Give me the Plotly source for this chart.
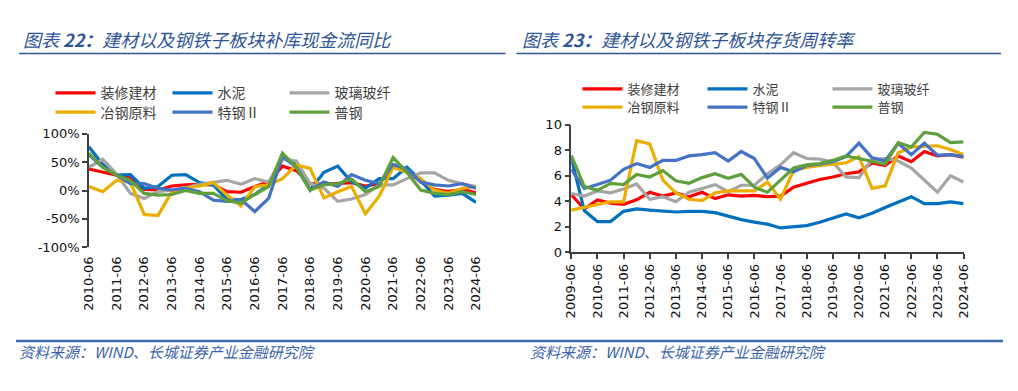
import plotly.graph_objects as go

# The page body keeps an 8px margin, so the figure is drawn 16px smaller
# and every reference pixel position is shifted by that margin.
PAGE_W, PAGE_H, OFF = 1018, 391, 8
W, H = PAGE_W - 2 * OFF, PAGE_H - 2 * OFF

# ---------------- data ----------------
periods_L = ["2010-06", "2010-12", "2011-06", "2011-12", "2012-06", "2012-12", "2013-06", "2013-12",
             "2014-06", "2014-12", "2015-06", "2015-12", "2016-06", "2016-12", "2017-06", "2017-12",
             "2018-06", "2018-12", "2019-06", "2019-12", "2020-06", "2020-12", "2021-06", "2021-12",
             "2022-06", "2022-12", "2023-06", "2023-12", "2024-06"]
ticks_L = ["2010-06", "2011-06", "2012-06", "2013-06", "2014-06", "2015-06", "2016-06", "2017-06",
           "2018-06", "2019-06", "2020-06", "2021-06", "2022-06", "2023-06", "2024-06"]

# 补库现金流同比 (%)
zxjc_L = [38, 32, 27, 24, 2, 1, 8, 10, 11, 10, -2, -3, 7, 15, 43, 35, 12, 11, 12, 14, 8, 12, 43, 36, 15, 2, -2, 2, -4]
sn_L = [77, 46, 27, 28, 4, 7, 27, 28, 14, 10, -16, -16, -7, 10, 60, 46, 1, 32, 43, 15, 4, 21, 21, 41, 18, -10, -8, -5, -21]
blbx_L = [41, 55, 29, -5, -14, -2, 1, 5, 11, 14, 18, 11, 21, 15, 55, 52, 12, 4, -19, -15, -7, 10, 10, 21, 31, 31, 18, 12, 7]
ygyl_L = [7, -2, 18, 15, -42, -44, -2, 4, 8, 14, -8, -27, 7, 10, 21, 45, 39, -13, -2, 7, -41, -10, 41, 32, 21, 1, -5, 4, 7]
tg_L = [63, 41, 27, 12, 12, 4, 1, 4, -2, -17, -19, -16, -37, -14, 60, 41, 1, 15, 7, 28, 18, 12, 46, 38, 15, 10, 8, 12, 4]
pg_L = [66, 41, 27, 18, -5, -8, -7, 0, -5, -5, -18, -22, -7, 7, 66, 41, 1, 10, 12, 20, -2, 7, 58, 32, 1, -5, -7, -2, -7]

periods_R = ["2009-06", "2009-12"] + periods_L
ticks_R = ["2009-06"] + ticks_L

# 存货周转率
zxjc_R = [4.5, 3.4, 4.1, 3.85, 3.75, 4.1, 4.7, 4.4, 4.65, 4.35, 4.7, 4.2, 4.5, 4.4, 4.45, 4.35, 4.4,
          5.1, 5.4, 5.7, 5.9, 6.15, 6.3, 7.0, 6.8, 7.55, 7.1, 7.9, 7.55, 7.65, 7.45]
sn_R = [7.4, 3.25, 2.4, 2.4, 3.2, 3.4, 3.3, 3.2, 3.15, 3.2, 3.2, 3.1, 2.8, 2.55, 2.35, 2.2, 1.9,
        1.98, 2.08, 2.35, 2.65, 3.0, 2.7, 3.05, 3.5, 3.95, 4.35, 3.8, 3.8, 3.95, 3.8]
blbx_R = [4.6, 4.4, 4.8, 4.65, 4.95, 5.35, 4.15, 4.35, 3.95, 4.7, 5.0, 5.3, 4.75, 5.25, 5.25, 6.15, 6.85,
          7.8, 7.35, 7.3, 7.05, 5.9, 5.85, 7.3, 7.35, 7.15, 6.6, 5.65, 4.7, 6.0, 5.5]
ygyl_R = [3.3, 3.5, 3.75, 3.95, 3.95, 8.75, 8.5, 5.65, 4.65, 4.15, 4.05, 4.65, 4.8, 4.8, 4.8, 5.5, 4.15,
          6.4, 6.65, 6.8, 6.9, 7.0, 7.5, 5.0, 5.2, 7.8, 8.25, 8.3, 8.35, 8.05, 7.65]
tg_R = [6.5, 5.0, 5.3, 5.65, 6.5, 6.95, 6.65, 7.2, 7.2, 7.55, 7.65, 7.8, 7.15, 7.9, 7.35, 5.8, 6.65,
        6.3, 6.8, 6.9, 7.1, 7.5, 8.55, 7.4, 7.15, 8.55, 7.65, 8.55, 7.6, 7.65, 7.5]
pg_R = [7.6, 5.15, 4.85, 5.4, 5.3, 6.1, 5.9, 6.4, 5.6, 5.4, 5.85, 6.15, 5.8, 6.1, 5.1, 4.7, 5.65,
        6.6, 6.85, 6.95, 7.2, 7.55, 7.35, 7.15, 6.9, 8.6, 8.25, 9.4, 9.25, 8.6, 8.65]

names = ["装修建材", "水泥", "玻璃玻纤", "冶钢原料", "特钢Ⅱ", "普钢"]
colors = ["#FF0000", "#0070C0", "#A5A5A5", "#EBAE00", "#4472C4", "#5FA03C"]
left_series = [zxjc_L, sn_L, blbx_L, ygyl_L, tg_L, pg_L]
right_series = [zxjc_R, sn_R, blbx_R, ygyl_R, tg_R, pg_R]

yticks_L = [-100, -50, 0, 50, 100]
yticktext_L = ["-100%", "-50%", "0%", "50%", "100%"]
yticks_R = [0, 2, 4, 6, 8, 10]

# ---------------- figure ----------------
fig = go.Figure()
for k in range(6):
    fig.add_trace(go.Scatter(x=periods_L, y=left_series[k], mode="lines", name=names[k],
                             line=dict(color=colors[k], width=3.2),
                             xaxis="x", yaxis="y", legend="legend" if k < 3 else "legend2"))
for k in range(6):
    fig.add_trace(go.Scatter(x=periods_R, y=right_series[k], mode="lines", name=names[k],
                             line=dict(color=colors[k], width=3.2),
                             xaxis="x2", yaxis="y2", legend="legend3" if k < 3 else "legend4"))

def px_x(p):
    return (p - OFF) / W

def px_y(p):
    return 1 - (p - OFF) / H

axcol = "#404040"
tickfont = dict(family="DejaVu Sans", size=13, color="#111111")

dom_xL = [px_x(82), px_x(475)]
dom_yL = [px_y(250), px_y(131.7)]
dom_xR = [px_x(571.7), px_x(970)]
dom_yR = [px_y(255), px_y(122.3)]

def leg(x, y, ew, fs):
    return dict(orientation="h", bgcolor="rgba(0,0,0,0)", borderwidth=0,
                font=dict(family="Noto Sans CJK SC", size=fs, color="#404040"),
                xanchor="left", yanchor="middle", entrywidthmode="pixels", entrywidth=ew,
                itemwidth=40, itemclick=False, itemdoubleclick=False,
                x=px_x(x), y=px_y(y))

fig.update_layout(
    width=W, height=H, margin=dict(l=0, r=0, t=0, b=0),
    paper_bgcolor="white", plot_bgcolor="white",
    showlegend=True,
    xaxis=dict(domain=dom_xL, anchor="y", type="category", range=[0, len(periods_L) - 1],
               tickmode="array", tickvals=ticks_L, ticktext=ticks_L, tickangle=-90,
               tickfont=tickfont, showline=False, ticks="outside", ticklen=3,
               tickcolor="rgba(0,0,0,0)", showgrid=False, zeroline=False),
    xaxis3=dict(overlaying="x", anchor="free", position=(dom_yL[0] + dom_yL[1]) / 2,
                range=[0, len(periods_L) - 1], tickmode="linear", tick0=0, dtick=2,
                showticklabels=False, ticks="outside", ticklen=5, tickwidth=1.5, tickcolor=axcol,
                showline=True, linewidth=1.5, linecolor=axcol, showgrid=False, zeroline=False),
    yaxis=dict(domain=dom_yL, anchor="x", range=[-100, 100], tickmode="array",
               tickvals=yticks_L, ticktext=yticktext_L, tickfont=tickfont,
               showline=True, linewidth=1.5, linecolor=axcol, ticks="outside", ticklen=5,
               tickwidth=1.5, tickcolor=axcol, showgrid=False, zeroline=False),
    xaxis2=dict(domain=dom_xR, anchor="y2", type="category", range=[0, len(periods_R) - 1],
                tickmode="array", tickvals=ticks_R, ticktext=ticks_R, tickangle=-90,
                tickfont=tickfont, showline=True, linewidth=1.5, linecolor=axcol,
                ticks="outside", ticklen=5, tickwidth=1.5, tickcolor=axcol,
                showgrid=False, zeroline=False),
    yaxis2=dict(domain=dom_yR, anchor="x2", range=[0, 10], tickmode="array",
                tickvals=yticks_R, tickfont=tickfont,
                showline=True, linewidth=1.5, linecolor=axcol, ticks="outside", ticklen=5,
                tickwidth=1.5, tickcolor=axcol, showgrid=False, zeroline=False),
    legend=leg(43, 89.5, 62, 14),
    legend2=leg(43, 109.5, 62, 14),
    legend3=leg(578, 85, 70, 13),
    legend4=leg(578, 104, 70, 13),
)

title_col = "#2F5597"
fig.add_annotation(x=px_x(13), y=px_y(33), xref="paper", yref="paper", xanchor="left", yanchor="middle",
                   showarrow=False, text="图表 <b>22：</b>建材以及钢铁子板块补库现金流同比",
                   font=dict(family="Noto Sans CJK SC", size=18, color=title_col, style="italic"))
fig.add_annotation(x=px_x(520), y=px_y(33), xref="paper", yref="paper", xanchor="left", yanchor="middle",
                   showarrow=False, text="图表 <b>23：</b>建材以及钢铁子板块存货周转率",
                   font=dict(family="Noto Sans CJK SC", size=18, color=title_col, style="italic"))
for xx in (9, 528):
    fig.add_annotation(x=px_x(xx), y=px_y(358), xref="paper", yref="paper", xanchor="left",
                       yanchor="middle", showarrow=False, text="资料来源：WIND、长城证券产业金融研究院",
                       font=dict(family="Noto Sans CJK SC", size=15, color="#3C64AA", style="italic"))

fig.add_shape(type="line", xref="paper", yref="paper", x0=px_x(11), x1=px_x(505), y0=px_y(48), y1=px_y(48),
              line=dict(color="#2F5597", width=1.5))
fig.add_shape(type="line", xref="paper", yref="paper", x0=px_x(516), x1=px_x(1008), y0=px_y(48), y1=px_y(48),
              line=dict(color="#2F5597", width=1.5))
fig.add_shape(type="line", xref="paper", yref="paper", x0=px_x(8), x1=px_x(1010), y0=px_y(347.5), y1=px_y(347.5),
              line=dict(color="#3D68AE", width=2.5))

fig.write_html("out.html", config={"displayModeBar": False})
